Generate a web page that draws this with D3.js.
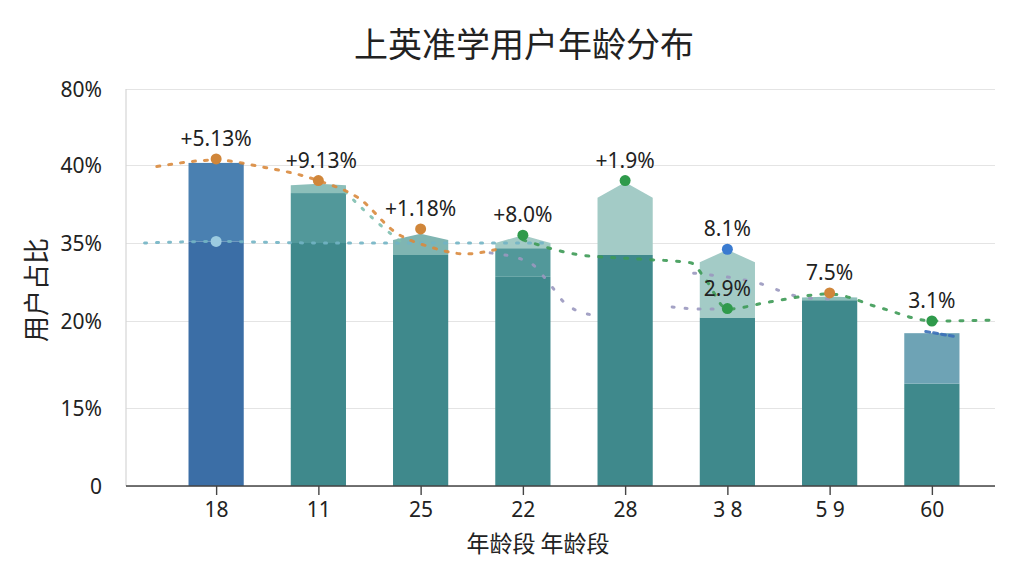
<!DOCTYPE html>
<html lang="zh-CN">
<head>
<meta charset="UTF-8">
<title>上英准学用户年龄分布</title>
<script src="https://cdn.jsdelivr.net/npm/d3@7"></script>
<style>
  html, body { margin: 0; padding: 0; background: #fff; }
  #chart text { font-family: "Noto Sans", "Noto Sans CJK SC", sans-serif; fill: #222; }
  #chart .cjk { font-family: "Noto Sans CJK SC", sans-serif; }
</style>
</head>
<body>
<div id="chart"></div>
<script>
// categories and tick labels
var ageGroups = ["18", "11", "25", "22", "28", "3 8", "5 9", "60"];
var yTicks = [0, 15, 20, 35, 40, 80];

// bar segments (in %): dark base, middle band, cap shoulders, cap peak
var baseShare     = [35.1, 35.0, 32.7, 28.5, 32.7, 20.6, 24.0, 16.4];
var midShare      = [41.1, 38.2, 32.7, 34.0, 32.7, 20.6, 24.0, 19.3];
var shoulderShare = [41.1, 38.7, 35.2, 35.0, 37.9, 31.3, 24.5, 19.3];
var peakShare     = [41.1, 38.8, 35.6, 35.5, 38.9, 33.7, 24.7, 19.3];

// markers on top of bars
var markerAt    = [0, 1, 2, 3, 4, 5, 5, 6, 7];
var markerShare = [43.2, 39.0, 35.9, 35.5, 39.0, 33.8, 22.4, 25.4, 20.0];
var markerText  = ["+5.13%", "+9.13%", "+1.18%", "+8.0%", "+1.9%", "8.1%", "2.9%", "7.5%", "3.1%"];
var markerKind  = ["o", "o", "o", "g", "g", "b", "g", "o", "g"];

// dotted trend lines: [category position, %]
var orangeLine = [[-0.58, 39.9], [0, 42.6], [0.43, 39.9], [1, 39.0], [1.41, 37.8], [1.75, 35.7], [2.1, 34.2], [2.44, 32.9], [2.73, 33.7]];
var tealLine   = [[-0.7, 35.0], [0, 35.1], [1, 35.0], [2, 35.0], [3, 35.0], [3.2, 35.0]];
var tealBend   = [[1.26, 38.3], [1.58, 36.3], [1.8, 35.1]];
var greenLine  = [[3.0, 35.2], [3.56, 32.7], [4.15, 31.9], [4.64, 31.2], [4.79, 27.9], [5.0, 22.3], [5.42, 23.7], [6.0, 25.2], [6.5, 22.5], [7.01, 20.0], [7.63, 20.2]];
var purpleLine = [[2.68, 33.1], [3.07, 31.2], [3.24, 27.7], [3.43, 23.1], [3.72, 21.0]];
var purpleLow  = [[4.46, 22.7], [4.74, 22.3], [4.93, 22.3]];
var purpleHigh = [[4.67, 29.2], [5.3, 27.3], [5.72, 24.6], [6.0, 24.2]];
var blueLine   = [[6.94, 19.4], [7.23, 19.1]];

var W = 1024, H = 576;
var plotLeft = 126, plotRight = 995, plotTop = 89, plotBottom = 486;

var svg = d3.select("#chart").append("svg")
    .attr("width", W).attr("height", H);

var x = d3.scalePoint().domain(ageGroups).range([165, 983]).padding(0.5);
var xi = d3.scaleLinear().domain([0, ageGroups.length - 1]).range([x(ageGroups[0]), x(ageGroups[ageGroups.length - 1])]);
// uneven tick labels, each tick sits at its own row
var y = d3.scaleLinear().domain(yTicks).range([486, 408, 321, 243, 165, 89]);
var bw = x.step() * 0.54;

// grid
svg.append("g")
    .attr("transform", "translate(" + plotLeft + ",0)")
    .call(d3.axisLeft(y).tickValues(yTicks).tickSize(-(plotRight - plotLeft)).tickFormat(""))
    .call(g => g.select(".domain").remove())
    .call(g => g.selectAll("line").attr("stroke", "#e4e4e4").attr("stroke-width", 1.2));

svg.append("line")
    .attr("x1", plotLeft).attr("x2", plotLeft).attr("y1", plotTop).attr("y2", plotBottom)
    .attr("stroke", "#d6d6d6").attr("stroke-width", 1.2);

// y labels
svg.append("g")
    .attr("transform", "translate(105,0)")
    .call(d3.axisLeft(y).tickValues(yTicks).tickSize(0).tickFormat(d => d === 0 ? "0" : d + "%"))
    .call(g => g.select(".domain").remove())
    .call(g => g.selectAll("text").attr("font-size", 21).attr("dx", 0).attr("dy", "0.35em"));

var darkCol = function(i) { return i == 0 ? "#3b6ea6" : "#3f898c"; };
var midCol = function(i) {
    if (i == 0) return "#4a80b1";
    if (i == 7) return "#6ea3b5";
    return "#52989a";
};
var capCol = function(i) {
    if (i == 2) return "#7fb5b2";
    if (i == 1 || i == 6) return "#8cbfba";
    return "#a3cbc6";
};

var bars = svg.append("g");
ageGroups.forEach(function(g, i) {
    var x0 = x(g) - bw / 2, x1 = x(g) + bw / 2;
    bars.append("rect")
        .attr("x", x0).attr("width", bw)
        .attr("y", y(baseShare[i])).attr("height", y(0) - y(baseShare[i]))
        .attr("fill", darkCol(i));
    if (midShare[i] > baseShare[i]) {
        bars.append("rect")
            .attr("x", x0).attr("width", bw)
            .attr("y", y(midShare[i])).attr("height", y(baseShare[i]) - y(midShare[i]))
            .attr("fill", midCol(i));
    }
    if (peakShare[i] > midShare[i]) {
        var pts = [[x0, y(midShare[i])], [x0, y(shoulderShare[i])], [x(g), y(peakShare[i])],
                   [x1, y(shoulderShare[i])], [x1, y(midShare[i])]];
        bars.append("path")
            .attr("d", d3.line()(pts) + "Z")
            .attr("fill", capCol(i));
    }
});

// dotted lines
var line = d3.line().x(d => xi(d[0])).y(d => y(d[1])).curve(d3.curveMonotoneX);
function dotted(data, color, dash) {
    svg.append("path")
        .attr("d", line(data))
        .attr("fill", "none")
        .attr("stroke", color)
        .attr("stroke-width", 3)
        .attr("stroke-linecap", "round")
        .attr("stroke-dasharray", dash || "2,9")
        .attr("opacity", 0.9);
}
dotted(tealLine, "#72b4c4", "2,10");
dotted(tealBend, "#7fbfb0", "2,10");
dotted(purpleLine, "#9a98bf", "2,13");
dotted(purpleLow, "#9a98bf", "2,11");
dotted(purpleHigh, "#9a98bf", "2,15");
dotted(orangeLine, "#d9893d", "3,9");
dotted(greenLine, "#3d9a55", "3,10");
dotted(blueLine, "#3a6fb8", "4,4");

// light dot on first bar
svg.append("circle")
    .attr("cx", x(ageGroups[0])).attr("cy", y(baseShare[0]))
    .attr("r", 5.5).attr("fill", "#9ccbe0");

// markers + labels
var kindCol = { o: "#d0863a", g: "#2f9a4b", b: "#3a7bd0" };
markerAt.forEach(function(k, j) {
    var cx = x(ageGroups[k]), cy = y(markerShare[j]);
    svg.append("circle")
        .attr("cx", cx).attr("cy", cy).attr("r", 5.5)
        .attr("fill", kindCol[markerKind[j]]);
    svg.append("text")
        .attr("x", cx + (k == 1 ? 3 : 0)).attr("y", cy - 13)
        .attr("text-anchor", "middle")
        .attr("font-size", 21)
        .text(markerText[j]);
});

// x axis
svg.append("line")
    .attr("x1", plotLeft).attr("x2", plotRight).attr("y1", plotBottom).attr("y2", plotBottom)
    .attr("stroke", "#444").attr("stroke-width", 1.6);

svg.append("g")
    .attr("transform", "translate(0," + plotBottom + ")")
    .call(d3.axisBottom(x).tickSize(9).tickPadding(7))
    .call(g => g.select(".domain").remove())
    .call(g => g.selectAll("line").attr("stroke", "#444").attr("stroke-width", 1.4))
    .call(g => g.selectAll("text").attr("font-size", 21));

// titles
svg.append("text")
    .attr("class", "cjk")
    .attr("x", 524).attr("y", 57)
    .attr("text-anchor", "middle")
    .attr("font-size", 34)
    .text("上英准学用户年龄分布");

svg.append("text")
    .attr("class", "cjk")
    .attr("transform", "translate(46,290) rotate(-90)")
    .attr("text-anchor", "middle")
    .attr("font-size", 26)
    .text("用户占比");

svg.append("text")
    .attr("class", "cjk")
    .attr("x", 538).attr("y", 552)
    .attr("text-anchor", "middle")
    .attr("font-size", 23)
    .text("年龄段 年龄段");
</script>
</body>
</html>
